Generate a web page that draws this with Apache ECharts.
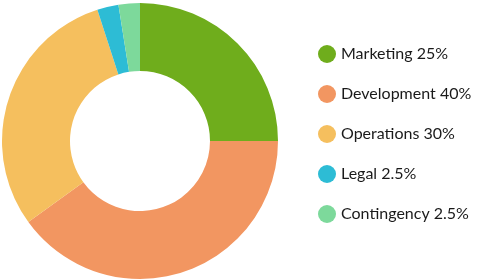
<!DOCTYPE html>
<html><head><meta charset="utf-8">
<script src="https://cdn.jsdelivr.net/npm/echarts@6/dist/echarts.min.js"></script>
<style>html,body{margin:0;padding:0;background:#fff}#c{width:480px;height:280px}</style>
</head><body><div id="c"></div>
<script>
const categories = ['Marketing', 'Development', 'Operations', 'Legal', 'Contingency'];
const values = [25, 40, 30, 2.5, 2.5];
const colors = ['#6FAD1C', '#F29661', '#F5BF5E', '#2DBCD5', '#7DD99B'];

const chart = echarts.init(document.getElementById('c'), null, {renderer: 'canvas'});
const valueMap = {};
categories.forEach((c, i) => valueMap[c] = values[i]);
chart.setOption({
  animation: false,
  color: colors,
  legend: {
    orient: 'vertical',
    left: 313,
    top: 40,
    icon: 'circle',
    itemWidth: 18,
    itemHeight: 18,
    itemGap: 22,
    textStyle: {fontFamily: 'Lato', fontSize: 16, color: '#1a1a1a'},
    formatter: name => name + ' ' + valueMap[name] + '%',
    data: categories
  },
  series: [{
    type: 'pie',
    center: [140, 141],
    radius: [70, 138],
    startAngle: 90,
    clockwise: true,
    label: {show: false},
    labelLine: {show: false},
    itemStyle: {borderWidth: 0},
    emphasis: {disabled: true},
    data: categories.map((c, i) => ({name: c, value: values[i]}))
  }]
});
</script></body></html>
